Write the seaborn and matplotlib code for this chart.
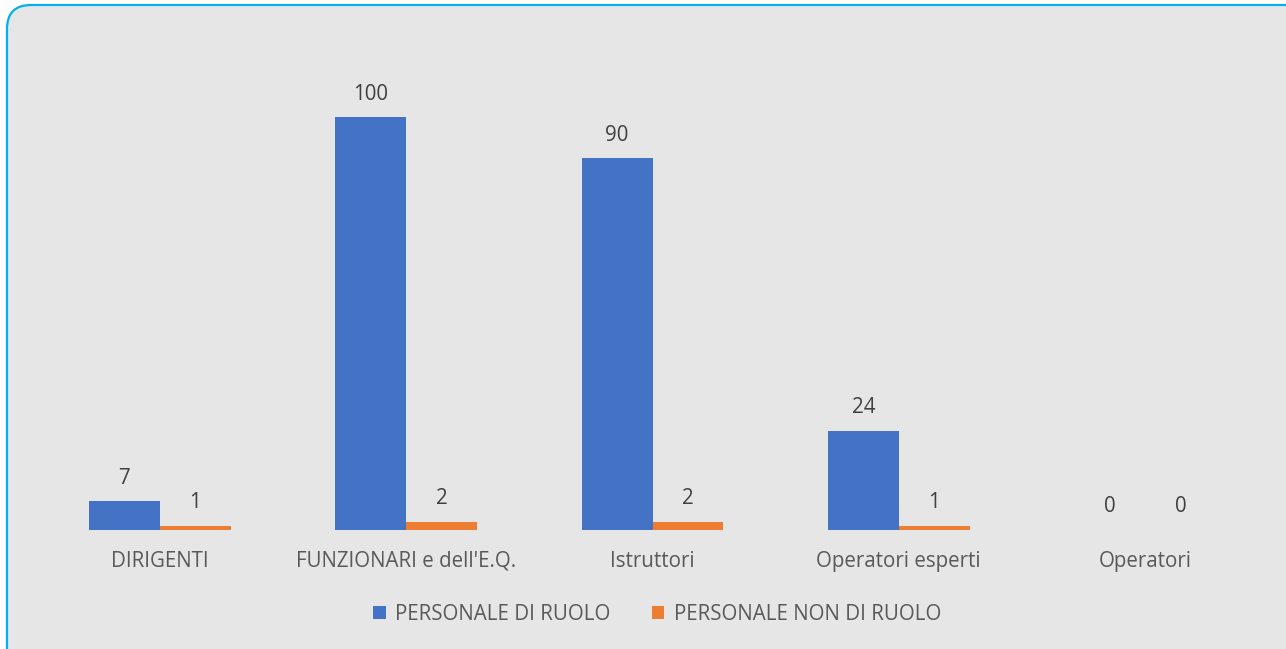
import matplotlib
matplotlib.use("Agg")
import matplotlib.pyplot as plt
import seaborn as sns
import pandas as pd
from matplotlib.patches import FancyBboxPatch, Rectangle
from matplotlib.transforms import IdentityTransform

categories = ["DIRIGENTI", "FUNZIONARI e dell'E.Q.", "Istruttori", "Operatori esperti", "Operatori"]
series_names = ["PERSONALE DI RUOLO", "PERSONALE NON DI RUOLO"]
ruolo = [7, 100, 90, 24, 0]
non_ruolo = [1, 2, 2, 1, 0]
colors = ["#4472C4", "#ED7D31"]

df = pd.DataFrame({
    "cat": categories * 2,
    "serie": [series_names[0]] * len(categories) + [series_names[1]] * len(categories),
    "val": ruolo + non_ruolo,
})

sns.set_theme(style="white")
plt.rcParams['font.family'] = ['Open Sans', 'DejaVu Sans']

W, H = 1286, 649
fig = plt.figure(figsize=(W / 100, H / 100), dpi=100)
fig.patch.set_facecolor("white")

# rounded border panel (pixel coordinates, origin bottom-left)
panel = FancyBboxPatch((7, -30), W + 30 - 7, (H - 5) + 30,
                       boxstyle="round,pad=0,rounding_size=24",
                       transform=IdentityTransform(), facecolor="#E6E6E6",
                       edgecolor="#00B0F0", linewidth=1.6, zorder=-5)
fig.patches.append(panel)

left_px, right_px = 36.75, 1268.25
bottom_px, top_px = 530, 40
ax = fig.add_axes([left_px / W, 1 - bottom_px / H, (right_px - left_px) / W, (bottom_px - top_px) / H])
ax.set_facecolor("none")
ax.set_zorder(2)

sns.barplot(data=df, x="cat", y="val", hue="serie", palette=colors, width=0.576,
            saturation=1, linewidth=0, ax=ax, legend=False)

ax.set_ylim(0, (bottom_px - top_px) / 4.13)
ax.set_xlim(-0.5, len(categories) - 0.5)
for s in ax.spines.values():
    s.set_visible(False)
ax.set_yticks([])
ax.set_xlabel("")
ax.set_ylabel("")
ax.tick_params(axis="x", length=0, pad=15, labelsize=14.8, labelcolor="#595959")

for cont in ax.containers:
    ax.bar_label(cont, labels=[f"{int(v)}" for v in cont.datavalues], padding=9,
                 fontsize=14.8, color="#404040")

handles = [Rectangle((0, 0), 1, 1, facecolor=c, edgecolor="none") for c in colors]
fig.legend(handles, series_names, loc="center", bbox_to_anchor=(657 / W, 1 - 614 / H),
           ncol=2, frameon=False, fontsize=14.8, labelcolor="#595959",
           handlelength=0.62, handleheight=0.62, handletextpad=0.45, columnspacing=2.0)

fig.savefig("out.png", dpi=100, facecolor="white")
